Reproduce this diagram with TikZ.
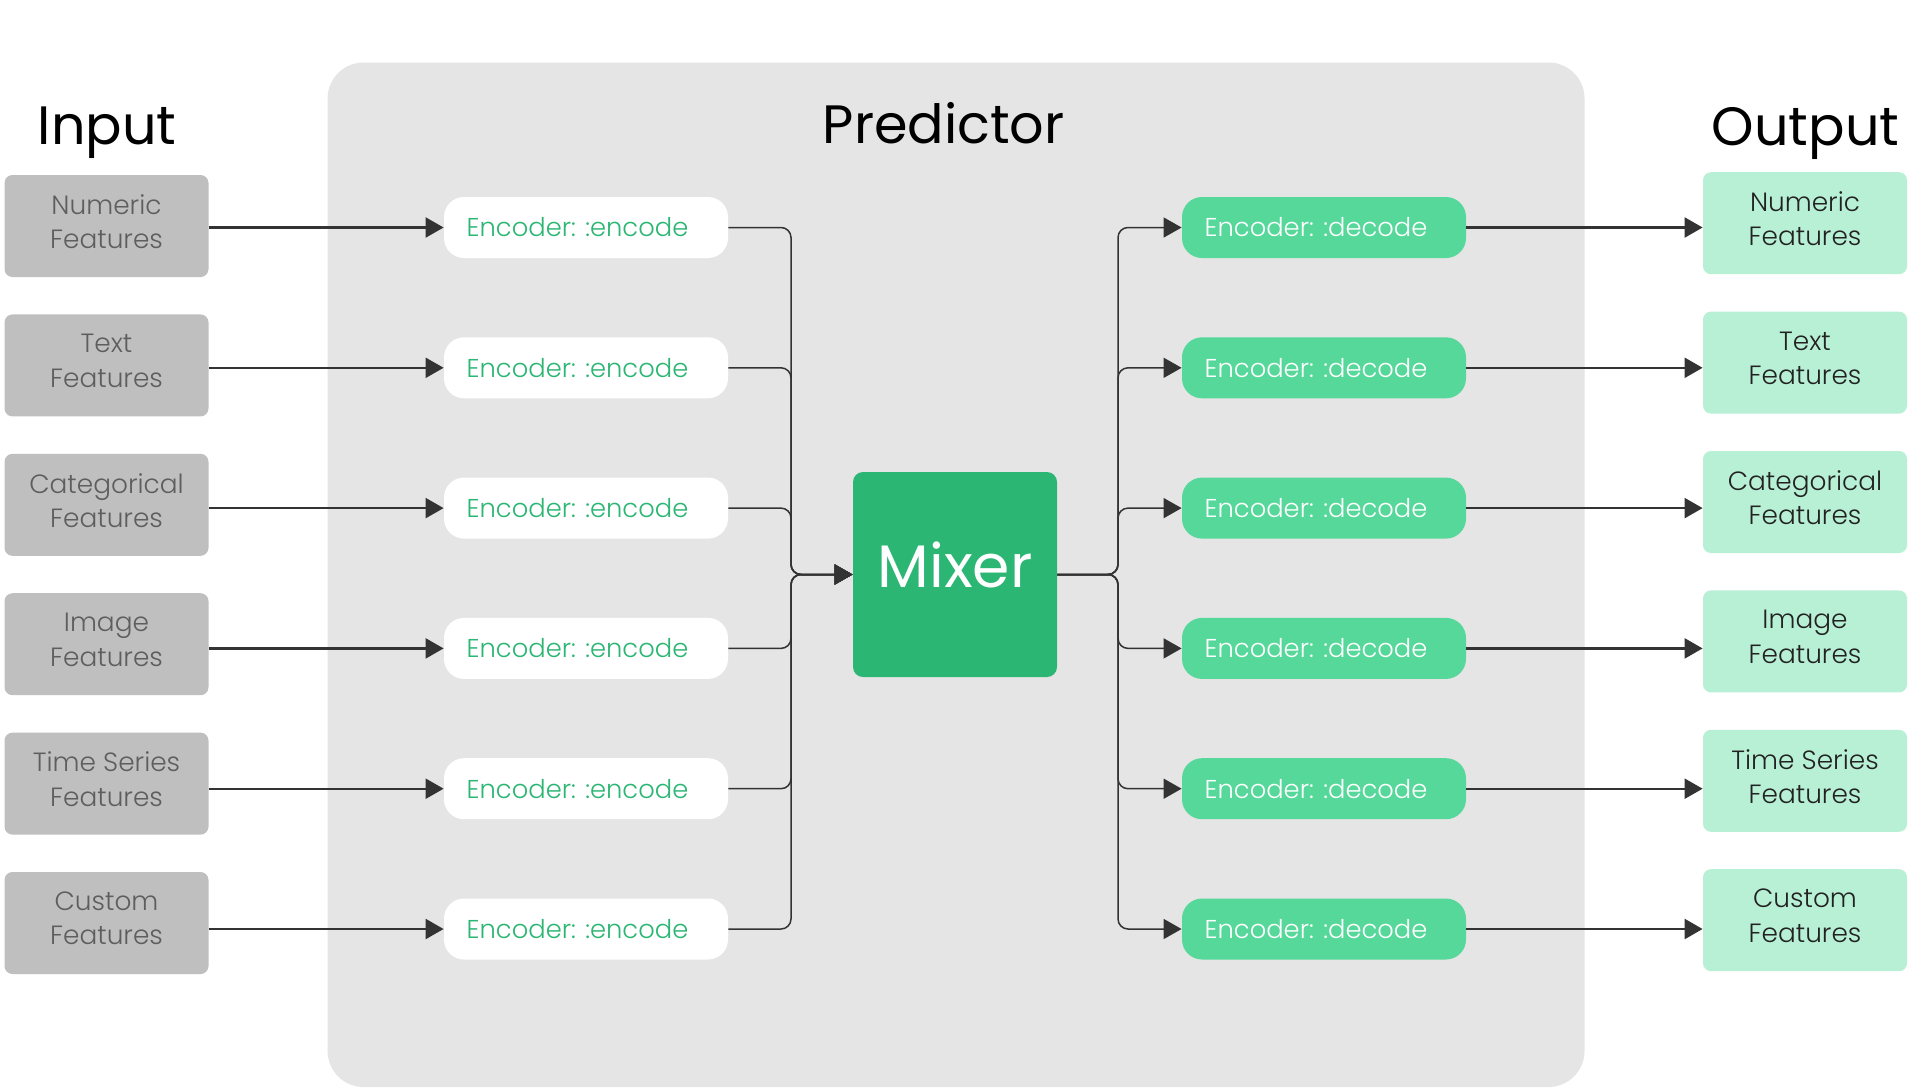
\documentclass[tikz,border=0pt]{standalone}
\usepackage{fontspec}
\setmainfont{Poppins}
\newfontfamily\lightfont{Poppins Light}
\usetikzlibrary{arrows.meta}
\definecolor{predbg}{HTML}{E5E5E5}
\definecolor{ingray}{HTML}{BFBFBF}
\definecolor{intext}{HTML}{5E5E5E}
\definecolor{encgreen}{HTML}{2BB673}
\definecolor{mixgreen}{HTML}{2BB673}
\definecolor{decgreen}{HTML}{55D89A}
\definecolor{outmint}{HTML}{B8F0D6}
\definecolor{outtext}{HTML}{222222}
\definecolor{linec}{HTML}{333333}
\begin{document}
\begin{tikzpicture}[x=0.5pt,y=-0.5pt,
 title/.style={font=\fontsize{27}{32}\selectfont, anchor=base, inner sep=0},
 feat/.style={rounded corners=4pt, minimum width=102pt, minimum height=51pt, align=center, text depth=4.5pt, font=\lightfont\fontsize{13.2}{17.15}\selectfont, inner sep=0},
 infeat/.style={feat, fill=ingray, text=intext},
 outfeat/.style={feat, fill=outmint, text=outtext},
 pill/.style={rounded corners=10pt, minimum width=142pt, minimum height=30.5pt, inner sep=0, font=\lightfont\fontsize{12.9}{16}\selectfont},
 encbox/.style={pill, fill=white, text=encgreen},
 decbox/.style={pill, fill=decgreen, text=white},
 arr/.style={draw=linec, line width=1.1pt, -{Triangle[length=9pt,width=10pt]}},
 conn/.style={draw=linec, line width=0.75pt, rounded corners=5pt, -{Triangle[length=9pt,width=10pt]}},
]
\fill[white] (0,0) rectangle (1921,1087);
\useasboundingbox (0,0) rectangle (1921,1087);
\node[fill=predbg, rounded corners=18pt, minimum width=628.45pt, minimum height=512.25pt, inner sep=0] (pred) at (956.05,574.75) {};
\node[title] (tin) at (107,144) {Input};
\node[title] (tpred) at (943.7,143.3) {Predictor};
\node[title] (tout) at (1805.6,145) {Output};
\node[fill=mixgreen, rounded corners=5pt, minimum width=102pt, minimum height=102.5pt, inner sep=0, text=white, text depth=9.5pt, font=\fontsize{30}{36}\selectfont] (mixer) at (955,574.5) {Mixer};
\coordinate (jl) at (791,574.5);
\coordinate (jr) at (1118,574.5);
\foreach \lab [count=\i] in {Numeric,Text,Categorical,Image,Time Series,Custom} {
  \node[infeat] (in\i) at (106.5,{226+139.4*(\i-1)}) {\lab\\Features};
  \node[outfeat] (out\i) at (1805,{223.2+139.4*(\i-1)}) {\lab\\Features};
  \node[encbox] (enc\i) at (586,{227.5+140.3*(\i-1)}) {Encoder: :encode\kern8.5pt};
  \node[decbox] (dec\i) at (1324,{227.5+140.3*(\i-1)}) {Encoder: :decode\kern8pt};
  \draw[arr] (in\i.east |- enc\i.west) -- (enc\i.west);
  \draw[arr] (dec\i.east) -- (dec\i.east -| out\i.west);
  \draw[conn] (enc\i.east) -| (jl) -- (mixer.west);
  \draw[conn] (mixer.east) -- (jr) |- (dec\i.west);
}
\end{tikzpicture}
\end{document}
